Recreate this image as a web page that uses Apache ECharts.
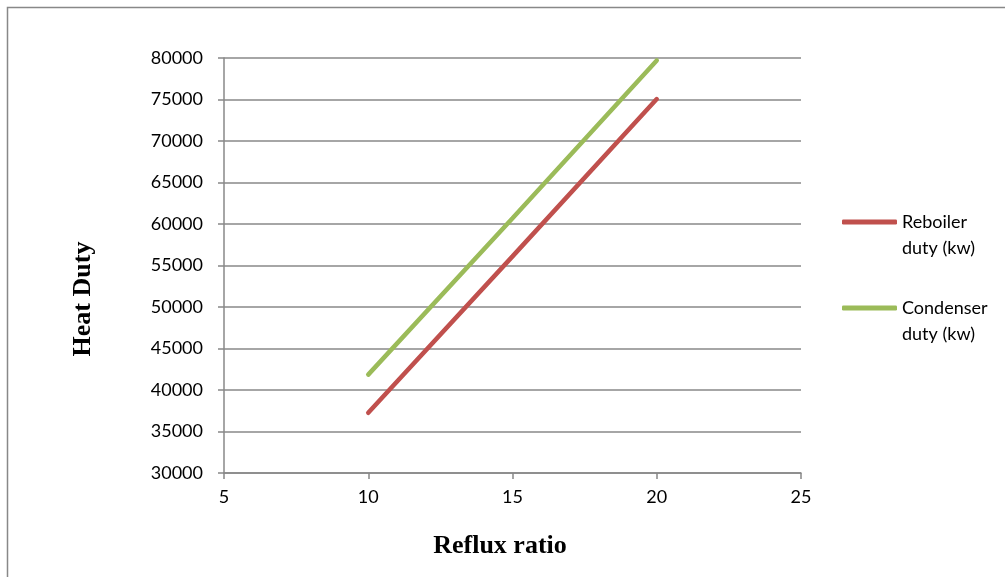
<!DOCTYPE html>
<html lang="en">
<head>
    <meta charset="UTF-8">
    <title>Heat Duty vs Reflux ratio</title>
    <script src="https://cdn.jsdelivr.net/npm/echarts@6/dist/echarts.min.js"></script>
    <style>
        html, body { margin: 0; padding: 0; background: #fff; }
        #main { width: 1005px; height: 577px; }
    </style>
</head>
<body>
<div id="main"></div>
<script type="text/javascript">
    // data
    var refluxRatio = [10, 15, 20];
    var reboilerDuty = [37250, 56100, 75050];
    var condenserDuty = [41850, 60700, 79700];

    var myChart = echarts.init(document.getElementById('main'));
    var labelFont = 'Lato, "Open Sans", sans-serif';
    var titleFont = 'bold 26px "Liberation Serif", "Times New Roman", serif';

    var option = {
        backgroundColor: '#fff',
        animation: false,
        grid: { left: 224, right: 204, top: 58, bottom: 104 },
        legend: {
            orient: 'vertical',
            left: 842,
            top: 183,
            padding: 0,
            itemWidth: 55,
            itemHeight: 5,
            itemGap: 8,
            icon: 'roundRect',
            // blank first line so the name's first line sits beside the icon
            formatter: function (name) { return '\n' + name; },
            textStyle: { fontFamily: labelFont, fontSize: 18, color: '#000', lineHeight: 26 },
            data: ['Reboiler\nduty (kw)', 'Condenser\nduty (kw)']
        },
        graphic: [
            {
                type: 'rect',
                shape: { x: 7.5, y: 7.5, width: 1005, height: 580 },
                style: { fill: 'none', stroke: '#888', lineWidth: 1.5 }
            },
            {
                type: 'text',
                x: 83, y: 299, rotation: Math.PI / 2,
                style: { text: 'Heat Duty', fill: '#000', font: titleFont, align: 'center', verticalAlign: 'middle' }
            },
            {
                type: 'text',
                x: 500, y: 546,
                style: { text: 'Reflux ratio', fill: '#000', font: titleFont, align: 'center', verticalAlign: 'middle' }
            }
        ],
        xAxis: {
            type: 'value',
            min: 5, max: 25, interval: 5,
            axisLine: { show: true, lineStyle: { color: '#888', width: 1.5 } },
            axisTick: { show: true, length: 6, lineStyle: { color: '#888', width: 1.5 } },
            axisLabel: { color: '#000', fontSize: 18, fontFamily: labelFont, margin: 15 },
            splitLine: { show: false }
        },
        yAxis: {
            type: 'value',
            min: 30000, max: 80000, interval: 5000,
            axisLine: { show: true, lineStyle: { color: '#888', width: 1.5 } },
            axisTick: { show: true, length: 6, lineStyle: { color: '#888', width: 1.5 } },
            axisLabel: {
                color: '#000', fontSize: 18, fontFamily: labelFont, margin: 21,
                formatter: function (v) { return String(v); }
            },
            splitLine: { show: true, lineStyle: { color: '#888', width: 1.5 } }
        },
        series: [
            {
                name: 'Reboiler\nduty (kw)',
                type: 'line',
                showSymbol: false,
                color: '#C0504D',
                lineStyle: { width: 4.5, cap: 'round' },
                data: refluxRatio.map(function (x, i) { return [x, reboilerDuty[i]]; })
            },
            {
                name: 'Condenser\nduty (kw)',
                type: 'line',
                showSymbol: false,
                color: '#9BBB59',
                lineStyle: { width: 4.5, cap: 'round' },
                data: refluxRatio.map(function (x, i) { return [x, condenserDuty[i]]; })
            }
        ]
    };

    myChart.setOption(option);
</script>
</body>
</html>
